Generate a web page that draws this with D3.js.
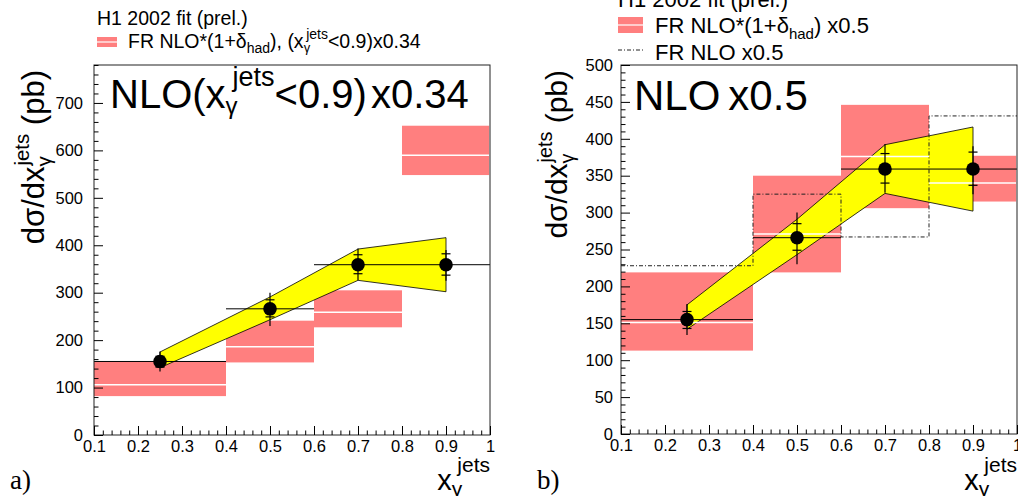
<!DOCTYPE html>
<html>
<head>
<meta charset="utf-8">
<script src="https://cdn.jsdelivr.net/npm/d3@7"></script>
<style>
    html, body { margin: 0; padding: 0; background: #fff; }
    svg { display: block; font-family: "Liberation Sans", Arial, Helvetica, sans-serif; }
    .axis path { display: none; }
    .axis line { stroke: #000; stroke-width: 1; }
    .axis text { font-size: 16.5px; fill: #000; font-family: "Liberation Sans", Arial, sans-serif; }
</style>
</head>
<body>
<svg id="chart" width="1018" height="496"></svg>
<script>
// bins and measured points (same data in both panels)
const binEdges = [0.1, 0.4, 0.6, 0.8, 1.0];
const xPoints = [0.25, 0.5, 0.7, 0.9];
const dataY = [155, 266, 359, 359];
const statLo = [143, 249, 340, 337];
const statHi = [166, 285, 380, 382];
const totLo = [134, 230, 327, 325];
const totHi = [176, 300, 393, 390];

// yellow band
const bandLo = [142, 243, 326, 302];
const bandHi = [175, 291, 392, 416];

// FR NLO*(1+δhad) boxes
const leftRedLo = [82, 153, 227, 548];
const leftRedHi = [154, 241, 305, 652];
const leftRedMid = [106, 186, 259, 590];
const rightRedLo = [113, 219, 306, 315];
const rightRedHi = [219, 350, 446, 377];
const rightRedMid = [151, 271, 376, 340];

// FR NLO x0.5 (dash-dot)
const nloHist = [228, 325, 267, 431];

const xTicks = [0.1, 0.2, 0.3, 0.4, 0.5, 0.6, 0.7, 0.8, 0.9, 1.0];

const RED = "#ff7f7f";
const svg = d3.select("#chart");

// text with sub/superscripts: parts = [{t, s, dx, dy}]
const rich = (g, x, y, parts, anchor = "start", transform = null) => {
    const t = g.append("text").attr("x", x).attr("y", y).attr("text-anchor", anchor).attr("fill", "#000");
    if (transform) t.attr("transform", transform);
    parts.forEach(p => {
        const s = t.append("tspan").attr("font-size", p.s).text(p.t);
        if (p.dx) s.attr("dx", p.dx);
        if (p.dy) s.attr("dy", p.dy);
    });
    return t;
};

const panel = (cfg) => {
    const g = svg.append("g");
    const x = d3.scaleLinear().domain([0.1, 1.0]).range([cfg.fx0, cfg.fx1]);
    const y = d3.scaleLinear().domain([0, cfg.yMax]).range([cfg.fy1, cfg.fy0]);

    // red boxes
    g.selectAll("rect.red").data(cfg.redLo).join("rect")
        .attr("x", (d, i) => x(binEdges[i]))
        .attr("width", (d, i) => x(Math.min(binEdges[i + 1], 0.998)) - x(binEdges[i]))
        .attr("y", (d, i) => y(cfg.redHi[i]))
        .attr("height", (d, i) => y(d) - y(cfg.redHi[i]))
        .attr("fill", RED);

    // yellow band
    const area = d3.area().x((d, i) => x(xPoints[i])).y0((d, i) => y(bandLo[i])).y1(d => y(d));
    g.append("path").datum(bandHi).attr("d", area(bandHi) + "Z")
        .attr("fill", "#ffff00").attr("stroke", "#000").attr("stroke-width", 0.8);

    // white centre lines
    g.selectAll("line.mid").data(cfg.redMid).join("line")
        .attr("x1", (d, i) => x(binEdges[i])).attr("x2", (d, i) => x(Math.min(binEdges[i + 1], 0.998)))
        .attr("y1", d => y(d)).attr("y2", d => y(d))
        .attr("stroke", "#fff").attr("stroke-width", 1.5);

    // dash-dot NLO
    if (cfg.nlo) {
        const pts = cfg.nlo.map((v, i) => [binEdges[i], v]).concat([[1.0, cfg.nlo[cfg.nlo.length - 1]]]);
        g.append("path")
            .attr("d", d3.line().x(d => x(d[0])).y(d => y(d[1])).curve(d3.curveStepAfter)(pts))
            .attr("fill", "none").attr("stroke", "#222").attr("stroke-width", 1)
            .attr("stroke-dasharray", "4,2,1,2");
    }

    // data: bin lines, error bars, points
    g.selectAll("line.hbar").data(dataY).join("line")
        .attr("x1", (d, i) => x(binEdges[i])).attr("x2", (d, i) => x(binEdges[i + 1]))
        .attr("y1", d => y(d)).attr("y2", d => y(d))
        .attr("stroke", "#000").attr("stroke-width", 1);
    g.selectAll("line.vbar").data(dataY).join("line")
        .attr("x1", (d, i) => x(xPoints[i])).attr("x2", (d, i) => x(xPoints[i]))
        .attr("y1", (d, i) => y(totLo[i])).attr("y2", (d, i) => y(totHi[i]))
        .attr("stroke", "#000").attr("stroke-width", 1.2);
    [statLo, statHi].forEach(arr => {
        g.selectAll(null).data(arr).join("line")
            .attr("x1", (d, i) => x(xPoints[i]) - 4.5).attr("x2", (d, i) => x(xPoints[i]) + 4.5)
            .attr("y1", d => y(d)).attr("y2", d => y(d))
            .attr("stroke", "#000").attr("stroke-width", 1.2);
    });
    g.selectAll("circle").data(dataY).join("circle")
        .attr("cx", (d, i) => x(xPoints[i])).attr("cy", d => y(d)).attr("r", 6.8).attr("fill", "#000");

    // frame
    g.append("rect").attr("x", cfg.fx0).attr("y", cfg.fy0)
        .attr("width", cfg.fx1 - cfg.fx0).attr("height", cfg.fy1 - cfg.fy0)
        .attr("fill", "none").attr("stroke", "#222").attr("stroke-width", 1);

    // axes (ticks inside)
    g.append("g").attr("class", "axis").attr("transform", `translate(0,${cfg.fy1})`)
        .call(d3.axisBottom(x).tickValues(xTicks).tickSize(-9).tickPadding(5.5)
            .tickFormat(d => Math.abs(d - 1) < 1e-9 ? "1" : d.toFixed(1)));
    g.append("g").attr("class", "axis").attr("transform", `translate(0,${cfg.fy1})`)
        .call(d3.axisBottom(x).tickValues(d3.range(0.12, 1.0, 0.02).filter(v => Math.abs(v * 10 - Math.round(v * 10)) > 1e-6))
            .tickSize(-4.5).tickFormat(""));
    g.append("g").attr("class", "axis").attr("transform", `translate(${cfg.fx0},0)`)
        .call(d3.axisLeft(y).tickValues(d3.range(0, cfg.yMax + 1, cfg.yMajor)).tickSize(-9).tickPadding(cfg.yPad));
    g.append("g").attr("class", "axis").attr("transform", `translate(${cfg.fx0},0)`)
        .call(d3.axisLeft(y).tickValues(d3.range(0, cfg.yMax + 0.1, cfg.yMinor).filter(v => v % cfg.yMajor !== 0))
            .tickSize(-4.5).tickFormat(""));

    // y title
    const ys = cfg.ytSize;
    rich(g, 0, 0, [
        { t: "dσ/dx", s: ys },
        { t: "γ", s: ys * 0.66, dy: ys * 0.22 },
        { t: "jets", s: ys * 0.66, dx: -ys * 0.3, dy: -ys * 0.72 },
        { t: " (pb)", s: ys, dy: ys * 0.5 }
    ], "end", `translate(${cfg.ytX},${cfg.fy0 + 5}) rotate(-90)`);

    // x title
    rich(g, cfg.fx1, 490, [
        { t: "x", s: 29 },
        { t: "γ", s: 21, dy: 6 },
        { t: "jets", s: 21, dx: -5, dy: -24 }
    ], "end");

    // panel letter
    g.append("text").attr("x", cfg.letterX).attr("y", 489)
        .attr("font-family", "'Liberation Serif', 'Times New Roman', serif").attr("font-size", 27)
        .text(cfg.letter);

    return g;
};

// left panel
const gl = panel({
    fx0: 94, fx1: 490, fy0: 65, fy1: 435, yMax: 780, yMajor: 100, yMinor: 20, yPad: 11,
    redLo: leftRedLo, redHi: leftRedHi, redMid: leftRedMid, nlo: null,
    ytSize: 31, ytX: 44, letter: "a)", letterX: 10
});
rich(gl, 97, 25, [{ t: "H1 2002 fit (prel.)", s: 19.5 }]);
gl.append("rect").attr("x", 97).attr("y", 37).attr("width", 20).attr("height", 10).attr("fill", RED);
gl.append("line").attr("x1", 97).attr("x2", 117).attr("y1", 42).attr("y2", 42).attr("stroke", "#fff").attr("stroke-width", 1.2);
rich(gl, 128, 48, [
    { t: "FR NLO*(1+δ", s: 19.5 },
    { t: "had", s: 14, dy: 5 },
    { t: "), (x", s: 19.5, dy: -5 },
    { t: "γ", s: 13, dy: 4 },
    { t: "jets", s: 14, dx: -4, dy: -13 },
    { t: "<0.9)x0.34", s: 19.5, dy: 9 }
]);
rich(gl, 110, 108, [
    { t: "NLO(x", s: 40 },
    { t: "γ", s: 24, dy: 6 },
    { t: "jets", s: 27, dx: -5, dy: -28 },
    { t: "<0.9)", s: 40, dy: 22 },
    { t: "x0.34", s: 40, dx: 4 }
]);

// right panel
const gr = panel({
    fx0: 621, fx1: 1017, fy0: 65, fy1: 434, yMax: 500, yMajor: 50, yMinor: 10, yPad: 8,
    redLo: rightRedLo, redHi: rightRedHi, redMid: rightRedMid, nlo: nloHist,
    ytSize: 30, ytX: 567, letter: "b)", letterX: 537
});
rich(gr, 618, 7, [{ t: "H1 2002 fit (prel.)", s: 22 }]);
gr.append("rect").attr("x", 618).attr("y", 17).attr("width", 25).attr("height", 16).attr("fill", RED);
gr.append("line").attr("x1", 618).attr("x2", 643).attr("y1", 25).attr("y2", 25).attr("stroke", "#fff").attr("stroke-width", 1.2);
rich(gr, 655, 33, [
    { t: "FR NLO*(1+δ", s: 22 },
    { t: "had", s: 15, dy: 6 },
    { t: ") x0.5", s: 22, dy: -6 }
]);
gr.append("line").attr("x1", 618).attr("x2", 643).attr("y1", 50).attr("y2", 50)
    .attr("stroke", "#222").attr("stroke-width", 1).attr("stroke-dasharray", "4,2,1,2");
rich(gr, 655, 60, [{ t: "FR NLO x0.5", s: 22 }]);
rich(gr, 634, 110, [
    { t: "NLO", s: 42 },
    { t: "x0.5", s: 42, dx: 8 }
]);
</script>
</body>
</html>
